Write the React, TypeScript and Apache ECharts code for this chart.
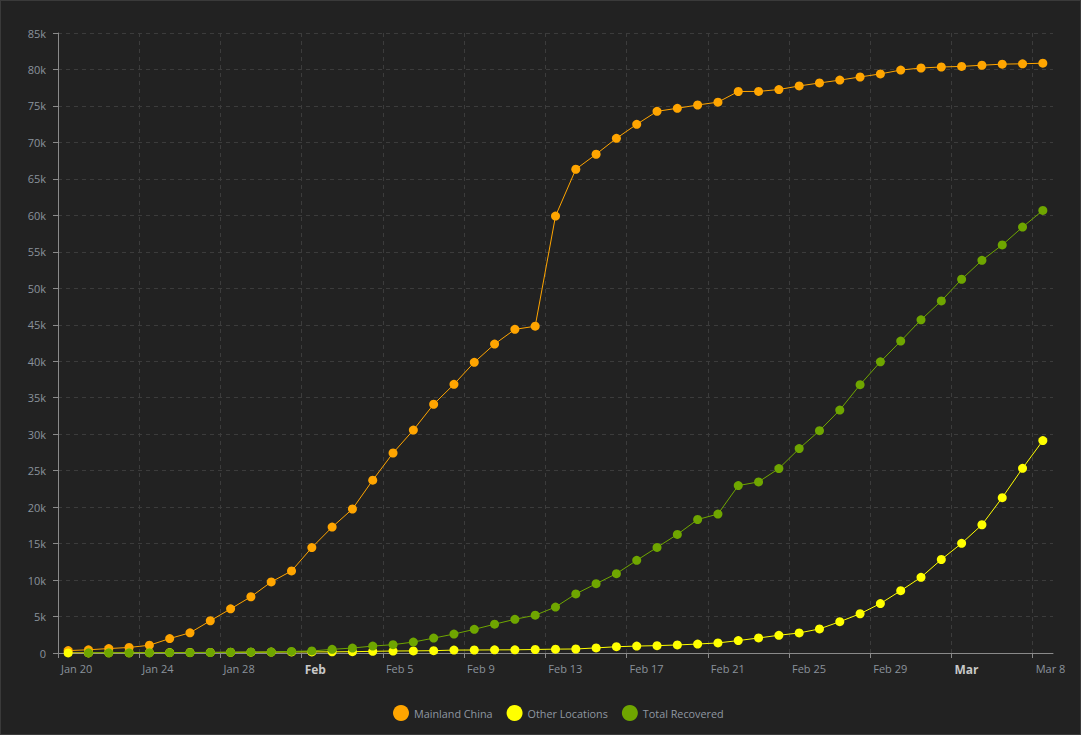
import React, { useEffect, useRef } from "react";
import * as echarts from "echarts";

// Days from Jan 20 to Mar 8, 2020
const days: string[] = [
  "2020-01-20","2020-01-21","2020-01-22","2020-01-23","2020-01-24","2020-01-25","2020-01-26","2020-01-27","2020-01-28","2020-01-29","2020-01-30","2020-01-31",
  "2020-02-01","2020-02-02","2020-02-03","2020-02-04","2020-02-05","2020-02-06","2020-02-07","2020-02-08","2020-02-09","2020-02-10","2020-02-11","2020-02-12","2020-02-13","2020-02-14","2020-02-15","2020-02-16","2020-02-17","2020-02-18","2020-02-19","2020-02-20","2020-02-21","2020-02-22","2020-02-23","2020-02-24","2020-02-25","2020-02-26","2020-02-27","2020-02-28","2020-02-29",
  "2020-03-01","2020-03-02","2020-03-03","2020-03-04","2020-03-05","2020-03-06","2020-03-07","2020-03-08",
];

const mainlandChina: number[] = [
  330, 440, 610, 760, 1060, 1980, 2770, 4420, 6050, 7710, 9740, 11250,
  14450, 17260, 19740, 23700, 27420, 30560, 34100, 36840, 39850, 42350, 44370, 44800, 59900, 66320, 68380, 70560, 72480, 74260, 74680, 75130, 75520, 76980, 76990, 77250, 77740, 78150, 78540, 78970, 79390,
  79920, 80200, 80340, 80420, 80580, 80730, 80780, 80860,
];

const otherLocations: number[] = [
  10, 15, 20, 30, 40, 55, 70, 80, 100, 110, 125, 150,
  150, 160, 180, 230, 270, 290, 320, 400, 410, 430, 440, 480, 530, 550, 700, 860, 950, 1010, 1100, 1230, 1380, 1700, 2060, 2430, 2750, 3300, 4290, 5380, 6780,
  8540, 10380, 12820, 15030, 17580, 21300, 25320, 29120,
];

const totalRecovered: (number | null)[] = [
  null, 25, 28, 30, 36, 40, 50, 60, 100, 120, 140, 220,
  280, 500, 680, 950, 1140, 1500, 2040, 2600, 3240, 3950, 4620, 5180, 6300, 8100, 9500, 10880, 12700, 14480, 16260, 18300, 19050, 22950, 23460, 25290, 28020, 30480, 33310, 36780, 39920,
  42760, 45680, 48270, 51240, 53830, 55940, 58390, 60680,
];

// Tick positions (day index from Jan 20) and their labels
const tickDays: number[] = [0, 4, 8, 12, 16, 20, 24, 28, 32, 36, 40, 44, 48];
const tickLabels: string[] = ["Jan 20", "Jan 24", "Jan 28", "Feb", "Feb 5", "Feb 9", "Feb 13", "Feb 17", "Feb 21", "Feb 25", "Feb 29", "Mar", "Mar 8"];
const boldLabels: string[] = ["Feb", "Mar"];

const seriesNames: string[] = ["Mainland China", "Other Locations", "Total Recovered"];
const seriesColors: string[] = ["#ffa500", "#ffff00", "#6fa600"];

const FONT = "'Open Sans', 'Noto Sans', sans-serif";

export default function App() {
  const ref = useRef<HTMLDivElement>(null);

  useEffect(() => {
    document.body.style.margin = "0";
    document.body.style.background = "#222222";
    if (!ref.current) return;
    const chart = echarts.init(ref.current, undefined, { renderer: "svg" });

    const toPoints = (vals: (number | null)[]) =>
      vals.map((v, i) => [i + 0.5, v] as [number, number | null]);

    const allSeries = [mainlandChina, otherLocations, totalRecovered];

    chart.setOption({
      animation: false,
      backgroundColor: "#222222",
      textStyle: { fontFamily: FONT },
      grid: { left: 57, right: 27, top: 32, bottom: 81, containLabel: false },
      legend: {
        top: 699,
        left: 387,
        icon: "circle",
        itemWidth: 16,
        itemHeight: 16,
        itemGap: 14,
        data: seriesNames,
        textStyle: { color: "#8f97a1", fontSize: 10.8, fontFamily: FONT },
      },
      xAxis: {
        type: "value",
        min: 0,
        max: days.length,
        axisLine: { show: true, lineStyle: { color: "#8a8a8a", width: 1 } },
        axisTick: {
          show: true,
          length: 5,
          customValues: tickDays,
          lineStyle: { color: "#8a8a8a" },
        },
        splitLine: {
          show: true,
          lineStyle: { color: "#3c3c3c", type: [4, 4], width: 1 },
        },
        axisLabel: {
          customValues: tickDays,
          align: "left",
          margin: 10,
          padding: [0, 0, 0, 3],
          color: "#8a929c",
          fontSize: 11,
          fontFamily: FONT,
          formatter: (v: number) => {
            const idx = tickDays.indexOf(Math.round(v));
            if (idx < 0) return "";
            const t = tickLabels[idx];
            return boldLabels.includes(t) ? `{b|${t}}` : t;
          },
          rich: {
            b: { fontWeight: "bold", color: "#c8c8c8", fontSize: 12, fontFamily: FONT },
          },
        },
      },
      yAxis: {
        type: "value",
        min: 0,
        max: 85000,
        interval: 5000,
        axisLine: { show: true, lineStyle: { color: "#8a8a8a", width: 1 } },
        axisTick: { show: true, length: 5, lineStyle: { color: "#8a8a8a" } },
        splitLine: {
          show: true,
          lineStyle: { color: "#3c3c3c", type: [4, 4], width: 1 },
        },
        axisLabel: {
          margin: 12,
          color: "#8a929c",
          fontSize: 11,
          fontFamily: FONT,
          formatter: (v: number) => (v === 0 ? "0" : `${v / 1000}k`),
        },
      },
      series: allSeries.map((vals, i) => ({
        name: seriesNames[i],
        type: "line",
        data: toPoints(vals),
        symbol: "circle",
        symbolSize: 9,
        showSymbol: true,
        connectNulls: false,
        itemStyle: { color: seriesColors[i] },
        lineStyle: { color: seriesColors[i], width: 1 },
        emphasis: { disabled: true },
        z: 2 + i,
      })),
    });

    return () => chart.dispose();
  }, []);

  return (
    <div
      ref={ref}
      style={{
        width: 1081,
        height: 735,
        boxSizing: "border-box",
        border: "1px solid #3a3a3a",
        background: "#222222",
      }}
    />
  );
}
